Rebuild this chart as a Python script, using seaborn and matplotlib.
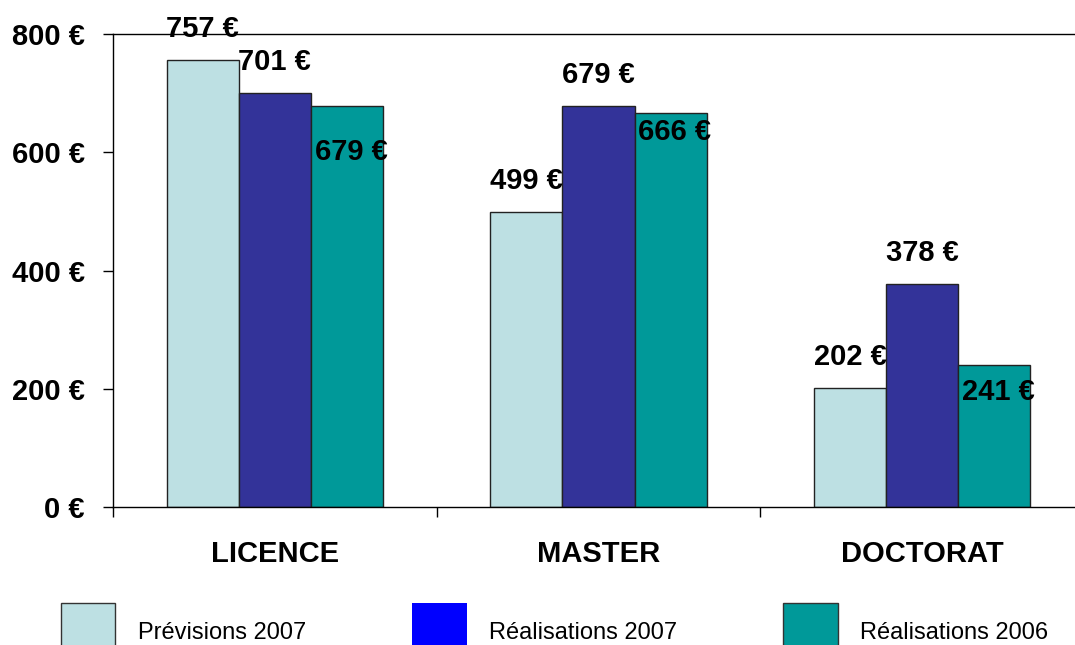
import seaborn as sns
import pandas as pd
import matplotlib.pyplot as plt
from matplotlib.patches import Patch

categories = ['LICENCE', 'MASTER', 'DOCTORAT']
series = ['Prévisions 2007', 'Réalisations 2007', 'Réalisations 2006']
previsions_2007 = [757, 499, 202]
realisations_2007 = [701, 679, 378]
realisations_2006 = [679, 666, 241]
y_ticks = [0, 200, 400, 600, 800]

bar_colors = ['#BDE0E3', '#333399', '#009999']
legend_colors = ['#BDE0E3', '#0000FF', '#009999']

df = pd.DataFrame({
    'Niveau': categories * 3,
    'Serie': [s for s in series for _ in categories],
    'Montant': previsions_2007 + realisations_2007 + realisations_2006,
})

sns.set_style('white')
plt.rcParams['font.family'] = ['Liberation Sans', 'DejaVu Sans']
plt.rcParams['text.color'] = 'black'
plt.rcParams['xtick.color'] = 'black'
plt.rcParams['ytick.color'] = 'black'

fig = plt.figure(figsize=(10.75, 6.45), dpi=100)
ax = fig.add_axes([0.1051, 0.214, 0.9033, 0.733])

sns.barplot(data=df, x='Niveau', y='Montant', hue='Serie', order=categories,
            hue_order=series, palette=bar_colors, saturation=1, width=0.668,
            edgecolor='#222222', linewidth=1, legend=False, ax=ax)

# value labels: first two series above the bar, last one inside the top
label_offsets = [[31, 31, 31], [31, 31, 31], [-46, -19, -27]]
for i, cont in enumerate(ax.containers):
    for j, bar in enumerate(cont):
        ax.annotate(f'{int(bar.get_height())} €',
                    (bar.get_x() + bar.get_width() / 2, bar.get_height()),
                    xytext=(3 if i == 2 else 0, label_offsets[i][j] * 0.72),
                    textcoords='offset points', ha='center', va='center',
                    fontsize=21, fontweight='bold', annotation_clip=False)

ax.set_xlim(-0.5, 2.5)
ax.set_ylim(0, 800)
ax.set_yticks(y_ticks, [f'{v} €' for v in y_ticks])
ax.set_xticks(range(len(categories)), categories)
ax.set_xticks([-0.5, 0.5, 1.5], minor=True)
ax.tick_params(axis='x', which='major', length=0, pad=24, labelsize=21)
ax.tick_params(axis='x', which='minor', length=7.2, width=1, direction='out', bottom=True)
ax.tick_params(axis='y', length=7.2, width=1, direction='out', left=True, pad=13, labelsize=21)
for lab in ax.get_xticklabels() + ax.get_yticklabels():
    lab.set_fontweight('bold')
ax.set_xlabel('')
ax.set_ylabel('')
ax.spines['right'].set_visible(False)
for s in ['left', 'top', 'bottom']:
    ax.spines[s].set_color('black')
    ax.spines[s].set_linewidth(1)

handles = [Patch(facecolor=c, edgecolor='#333333' if c != '#0000FF' else 'none', linewidth=1)
           for c in legend_colors]
fig.legend(handles, series, loc='lower left', bbox_to_anchor=(0.037, -0.058),
           ncol=3, frameon=False, fontsize=17, handlelength=2.3, handleheight=3.4,
           handletextpad=0.95, columnspacing=4.5)

plt.savefig('out.png', dpi=100)
